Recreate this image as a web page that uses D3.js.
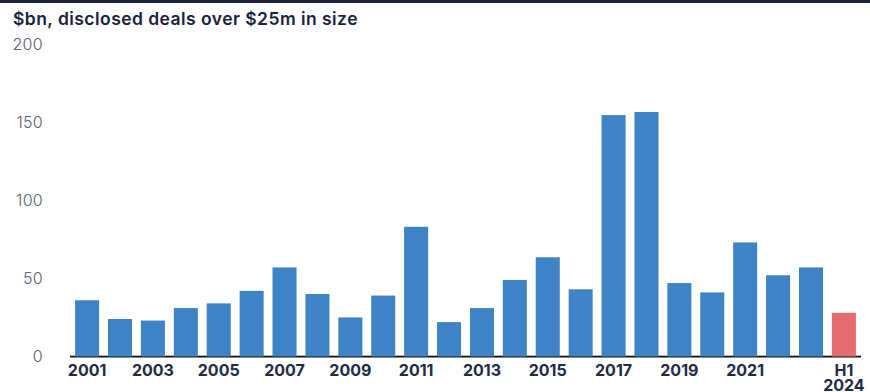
<!DOCTYPE html>
<html>
<head>
<meta charset="utf-8">
<script src="https://cdn.jsdelivr.net/npm/d3@7/dist/d3.min.js"></script>
<style>
  html, body { margin: 0; padding: 0; background: #fff; }
  svg { display: block; }
</style>
</head>
<body>
<svg id="chart" width="870" height="392"></svg>
<script>
const categories = ["2001","2002","2003","2004","2005","2006","2007","2008","2009","2010","2011","2012","2013","2014","2015","2016","2017","2018","2019","2020","2021","2022","2023","H1 2024"];
const values = [36,24,23,31,34,42,57,40,25,39,83,22,31,49,63.5,43,154.5,156.5,47,41,73,52,57,28];
const highlighted = ["H1 2024"];
const yTicks = [0,50,100,150,200];
const xLabelCats = ["2001","2003","2005","2007","2009","2011","2013","2015","2017","2019","2021","H1 2024"];
const title = "$bn, disclosed deals over $25m in size";

const svg = d3.select("#chart");
const W = 870, H = 392;

// top band
svg.append("rect").attr("x",0).attr("y",0).attr("width",W).attr("height",3).attr("fill","#1b2240");

// title
svg.append("text").attr("x",13).attr("y",25)
  .attr("font-family","Inter, 'Noto Sans', sans-serif").attr("font-weight",600)
  .attr("font-size",17.5).attr("letter-spacing",0.45).attr("fill","#1b2240").text(title);

const x = d3.scaleBand().domain(categories).range([70.5, 860.5]).paddingInner(0.27).paddingOuter(0.14);
const y = d3.scaleLinear().domain([0,200]).range([356.5, 44]);

// y labels
const yAxis = d3.axisLeft(y).tickValues(yTicks).tickSize(0).tickPadding(0);
const gy = svg.append("g").attr("transform","translate(43,0)").call(yAxis);
gy.select(".domain").remove();
gy.selectAll("text").attr("font-family","Inter, 'Noto Sans', sans-serif").attr("font-weight",300)
  .attr("font-size",16).attr("letter-spacing",0.3).attr("fill","#5b6075");

// baseline lines
svg.append("line").attr("x1",70).attr("x2",861).attr("y1",355.5).attr("y2",355.5)
  .attr("stroke","#b5b5b5").attr("stroke-width",1);
svg.append("line").attr("x1",70).attr("x2",861).attr("y1",356.8).attr("y2",356.8)
  .attr("stroke","#111").attr("stroke-width",1.6);

// bars
svg.append("g").selectAll("rect").data(categories).join("rect")
  .attr("x", d => x(d))
  .attr("width", x.bandwidth())
  .attr("y", (d,i) => y(values[i]))
  .attr("height", (d,i) => y(0) - y(values[i]))
  .attr("fill", d => highlighted.includes(d) ? "#e46b6f" : "#3e83c5");

// x labels
const xAxis = d3.axisBottom(x).tickValues(xLabelCats).tickSize(0).tickPadding(0).tickFormat(() => "");
const gx = svg.append("g").call(xAxis);
gx.select(".domain").remove();
gx.selectAll(".tick text").remove();
gx.selectAll(".tick").each(function(d) {
  const t = d3.select(this).append("text")
    .attr("font-family","Inter, 'Noto Sans', sans-serif").attr("font-weight",700)
    .attr("font-size",16).attr("fill","#232a45").attr("text-anchor","middle");
  const parts = d.split(" ");
  parts.forEach((p,i) => t.append("tspan").attr("x",0).attr("y",376 + i*14.5).text(p));
});
</script>
</body>
</html>
